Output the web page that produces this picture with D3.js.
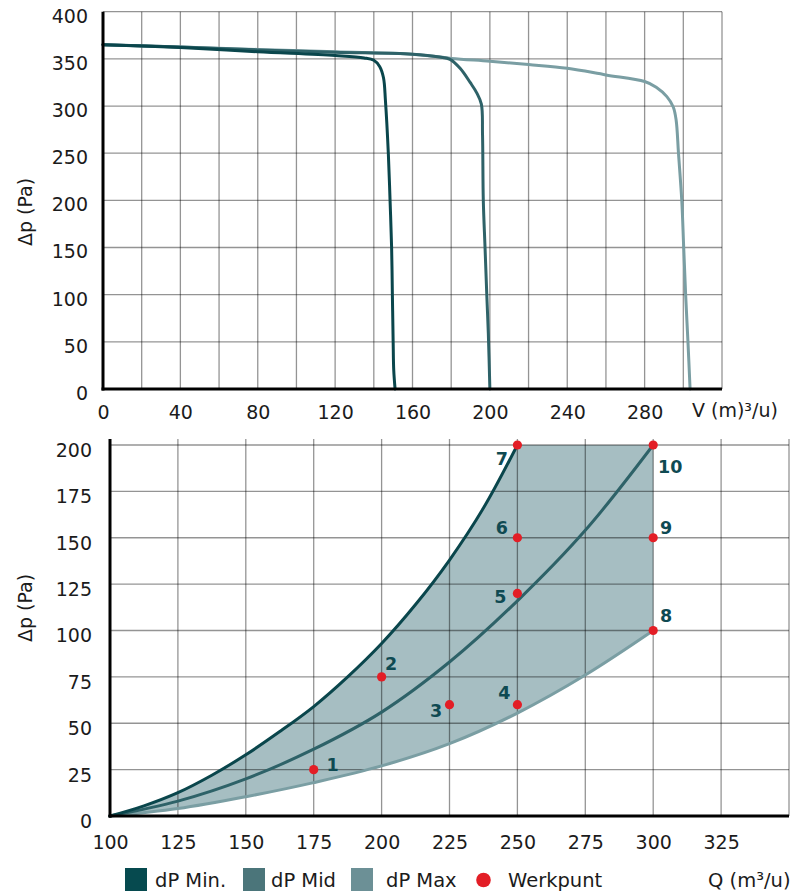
<!DOCTYPE html>
<html>
<head>
<meta charset="utf-8">
<script src="https://cdn.jsdelivr.net/npm/d3@7"></script>
<style>
  html, body { margin: 0; padding: 0; background: #fff; }
  svg { display: block; font-family: "DejaVu Sans", sans-serif; }
</style>
</head>
<body>
<svg id="chart" width="795" height="895"></svg>
<script>
// ---------- DATA: top chart (fan curves, V in m³/u, Δp in Pa) ----------
const topMinV = [0, 40, 80, 120, 135, 140, 143, 145, 146, 147.5, 148.4, 149.2, 149.6, 150, 150.3, 151];
const topMinP = [365, 362, 357.5, 353.5, 351, 348.5, 342, 330, 306, 250, 200, 150, 100, 50, 20, 0];
const topMidV = [0, 40, 80, 120, 160, 174, 179.4, 184.6, 189.8, 193.2, 195.6, 196.2, 196.6, 197.5, 198.4, 199.2, 200];
const topMidP = [365, 362.5, 359.5, 357, 355, 352, 349.5, 340, 325, 314, 302, 270, 200, 150, 100, 59, 0];
const topMaxV = [0, 80, 120, 160, 180, 200, 220, 240, 260, 280, 286, 291.5, 294.8, 296.3, 297.5, 299.2, 300.2, 301.2, 302.4, 303.5];
const topMaxP = [365, 360, 357.5, 355, 350.5, 347.5, 344, 340, 333, 326, 320, 310, 299, 285, 250, 200, 150, 100, 50, 0];
const topXTicks = [0, 40, 80, 120, 160, 200, 240, 280];
const topYTicks = [0, 50, 100, 150, 200, 250, 300, 350, 400];

// ---------- DATA: bottom chart (system curves, Q in m³/u, Δp in Pa) ----------
const botMinQ = [100, 112.5, 125, 137.5, 150, 162.5, 175, 187.5, 200, 212.5, 225, 237.5, 250];
const botMinP = [0, 5.5, 12.6, 22, 33, 45.5, 59, 75, 93, 114, 138, 166, 200];
const botMidQ = [100, 125, 150, 175, 200, 225, 250, 275, 300];
const botMidP = [0, 8, 20, 36, 56, 83, 116, 154, 200];
const botMaxQ = [100, 125, 150, 175, 200, 225, 250, 275, 300];
const botMaxP = [0, 4, 10.4, 18, 27, 39, 55.5, 76, 100];
const pointIds = ["1", "2", "3", "4", "5", "6", "7", "8", "9", "10"];
const pointQ = [175, 200, 225, 250, 250, 250, 250, 300, 300, 300];
const pointP = [25, 75, 60, 60, 120, 150, 200, 100, 150, 200];
const botXTicks = [100, 125, 150, 175, 200, 225, 250, 275, 300, 325];
const botYTicks = [0, 25, 50, 75, 100, 125, 150, 175, 200];
const legendNames = ["dP Min.", "dP Mid", "dP Max", "Werkpunt"];

// ---------- STYLE / LAYOUT ----------
const C = {
  min: "#0a464c", mid: "#2e6268", max: "#7a9ea3",
  swMin: "#064a4f", swMid: "#4b757a", swMax: "#6c9096",
  fill: "#a6bec2", red: "#e31e26", label: "#0f4a52",
  grid: "rgba(0,0,0,0.42)", text: "#1b1b1b"
};
// label offsets (text centre x, baseline y) relative to each point
const labelOff = [[19, 1], [9.5, -6.5], [-13.5, 12.5], [-13, -6], [-17, 9.5], [-15.5, -3.5], [-15.5, 20], [13, -8.5], [13, -3.5], [17, 28]];

const svg = d3.select("#chart");
const zip = (a, b) => a.map((v, i) => [v, b[i]]);

// ================= TOP CHART =================
const xT = d3.scaleLinear().domain([0, 320]).range([103, 722]);
const yT = d3.scaleLinear().domain([0, 400]).range([389, 11.7]);
const gT = svg.append("g");

// grid
gT.append("g").selectAll("line").data(d3.range(20, 321, 20)).join("line")
  .attr("x1", d => xT(d)).attr("x2", d => xT(d))
  .attr("y1", yT(400)).attr("y2", yT(0))
  .attr("stroke", C.grid).attr("stroke-width", 1.3);
gT.append("g").selectAll("line").data(d3.range(50, 401, 50)).join("line")
  .attr("x1", xT(0)).attr("x2", xT(320))
  .attr("y1", d => yT(d)).attr("y2", d => yT(d))
  .attr("stroke", C.grid).attr("stroke-width", 1.3);

// curves
const lineT = d3.line().x(d => xT(d[0])).y(d => yT(d[1])).curve(d3.curveCatmullRom.alpha(0.5));
[[topMaxV, topMaxP, C.max], [topMidV, topMidP, C.mid], [topMinV, topMinP, C.min]].forEach(([v, p, col]) => {
  gT.append("path").datum(zip(v, p)).attr("d", lineT)
    .attr("fill", "none").attr("stroke", col).attr("stroke-width", 3)
    .attr("stroke-linejoin", "round").attr("stroke-linecap", "round");
});

// axes lines
gT.append("line").attr("x1", xT(0)).attr("x2", xT(0)).attr("y1", yT(400)).attr("y2", yT(0) + 1.5)
  .attr("stroke", "#000").attr("stroke-width", 3);
gT.append("line").attr("x1", xT(0) - 1.5).attr("x2", xT(320)).attr("y1", yT(0)).attr("y2", yT(0))
  .attr("stroke", "#000").attr("stroke-width", 3);

// tick labels via d3 axes
const axYT = gT.append("g").attr("transform", `translate(${xT(0)},0)`)
  .call(d3.axisLeft(yT).tickValues(topYTicks).tickSize(0).tickPadding(15));
const axXT = gT.append("g").attr("transform", `translate(0,${yT(0)})`)
  .call(d3.axisBottom(xT).tickValues(topXTicks).tickSize(0).tickPadding(12));
[axYT, axXT].forEach(a => {
  a.select(".domain").remove();
  a.selectAll("text").attr("font-family", "DejaVu Sans").attr("font-size", 19).attr("fill", C.text);
});
axYT.selectAll("text").attr("dy", "0.55em");
axXT.selectAll("text").attr("dy", "0.95em");

gT.append("text").attr("x", 692).attr("y", 417).attr("font-size", 19).attr("fill", C.text).text("V (m)³/u)");
gT.append("text").attr("transform", `translate(32,${212}) rotate(-90)`).attr("text-anchor", "middle")
  .attr("font-size", 19).attr("fill", C.text).text("Δp (Pa)");

// ================= BOTTOM CHART =================
const xB = d3.scaleLinear().domain([100, 350]).range([110, 789]);
const yB = d3.scaleLinear().domain([0, 200]).range([816, 445]);
const gB = svg.append("g");

const lineB = d3.line().x(d => xB(d[0])).y(d => yB(d[1])).curve(d3.curveCatmullRom.alpha(0.5));
const minPts = zip(botMinQ, botMinP);
const midPts = zip(botMidQ, botMidP);
const maxPts = zip(botMaxQ, botMaxP);

// shaded operating area
const lastMax = maxPts[maxPts.length - 1];
const area = lineB(minPts)
  + "L" + xB(lastMax[0]) + "," + yB(200)
  + "L" + xB(lastMax[0]) + "," + yB(lastMax[1])
  + lineB(maxPts.slice().reverse()).replace(/^M/, "L") + "Z";
gB.append("path").attr("d", area).attr("fill", C.fill).attr("stroke", "none");

// grid
gB.append("g").selectAll("line").data(d3.range(125, 351, 25)).join("line")
  .attr("x1", d => xB(d)).attr("x2", d => xB(d))
  .attr("y1", yB(200) - 6).attr("y2", yB(0))
  .attr("stroke", C.grid).attr("stroke-width", 1.3);
gB.append("g").selectAll("line").data(d3.range(25, 201, 25)).join("line")
  .attr("x1", xB(100)).attr("x2", xB(350))
  .attr("y1", d => yB(d)).attr("y2", d => yB(d))
  .attr("stroke", C.grid).attr("stroke-width", 1.3);

// curves
[[maxPts, C.max], [midPts, C.mid], [minPts, C.min]].forEach(([pts, col]) => {
  gB.append("path").datum(pts).attr("d", lineB)
    .attr("fill", "none").attr("stroke", col).attr("stroke-width", 3)
    .attr("stroke-linecap", "round");
});

// axes lines
gB.append("line").attr("x1", xB(100)).attr("x2", xB(100)).attr("y1", yB(200) - 6).attr("y2", yB(0) + 1.5)
  .attr("stroke", "#000").attr("stroke-width", 3);
gB.append("line").attr("x1", xB(100) - 1.5).attr("x2", xB(350)).attr("y1", yB(0)).attr("y2", yB(0))
  .attr("stroke", "#000").attr("stroke-width", 3);

const axYB = gB.append("g").attr("transform", `translate(${xB(100)},0)`)
  .call(d3.axisLeft(yB).tickValues(botYTicks).tickSize(0).tickPadding(18));
const axXB = gB.append("g").attr("transform", `translate(0,${yB(0)})`)
  .call(d3.axisBottom(xB).tickValues(botXTicks).tickSize(0).tickPadding(20));
[axYB, axXB].forEach(a => {
  a.select(".domain").remove();
  a.selectAll("text").attr("font-family", "DejaVu Sans").attr("font-size", 19).attr("fill", C.text);
});
axYB.selectAll("text").attr("dy", "0.6em");
axXB.selectAll("text").attr("dy", "0.7em");

gB.append("text").attr("transform", `translate(32,${608}) rotate(-90)`).attr("text-anchor", "middle")
  .attr("font-size", 19).attr("fill", C.text).text("Δp (Pa)");

// working points
const pts = pointIds.map((id, i) => ({ id, q: pointQ[i], p: pointP[i], off: labelOff[i] }));
gB.append("g").selectAll("circle").data(pts).join("circle")
  .attr("cx", d => xB(d.q)).attr("cy", d => yB(d.p)).attr("r", 4.6).attr("fill", C.red);
gB.append("g").selectAll("text").data(pts).join("text")
  .attr("x", d => xB(d.q) + d.off[0]).attr("y", d => yB(d.p) + d.off[1])
  .attr("text-anchor", "middle").attr("font-weight", "bold").attr("font-size", 17.5)
  .attr("fill", C.label).text(d => d.id);

// ================= LEGEND =================
const lg = svg.append("g");
const swCols = [C.swMin, C.swMid, C.swMax];
const swX = [125, 243, 351];
const txX = [155, 271, 386];
swCols.forEach((c, i) => {
  lg.append("rect").attr("x", swX[i]).attr("y", 868).attr("width", 22).attr("height", 23).attr("fill", c);
  lg.append("text").attr("x", txX[i]).attr("y", 887).attr("font-size", 19.5).attr("fill", C.text).text(legendNames[i]);
});
lg.append("circle").attr("cx", 483.5).attr("cy", 880).attr("r", 7.3).attr("fill", C.red);
lg.append("text").attr("x", 508).attr("y", 887).attr("font-size", 19.5).attr("fill", C.text).text(legendNames[3]);
lg.append("text").attr("x", 708).attr("y", 887).attr("font-size", 19.5).attr("fill", C.text).text("Q (m³/u)");
</script>
</body>
</html>
